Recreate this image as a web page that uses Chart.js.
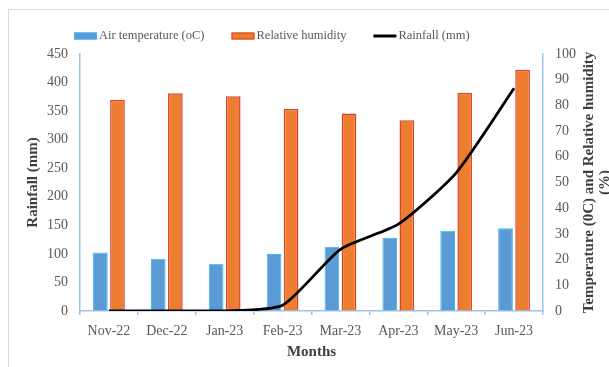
<!DOCTYPE html>
<html>
<head>
<meta charset="utf-8">
<script src="https://cdn.jsdelivr.net/npm/chart.js@4.4.0/dist/chart.umd.min.js"></script>
<style>
  html, body { margin: 0; padding: 0; background: #fff; }
  #wrap { position: relative; width: 609px; height: 367px; overflow: hidden; }
  #frame { position: absolute; left: 8px; top: 9px; right: 0; bottom: 0;
           border-top: 1px solid #d9d9d9; border-left: 1px solid #d9d9d9; }
  canvas { position: absolute; left: 0; top: 0; }
</style>
</head>
<body>
<div id="wrap">
  <div id="frame"></div>
  <canvas id="chart" width="609" height="367"></canvas>
</div>
<script>
// Monthly climate record, Nov 2022 – Jun 2023
const months = ['Nov-22', 'Dec-22', 'Jan-23', 'Feb-23', 'Mar-23', 'Apr-23', 'May-23', 'Jun-23'];
const airTemperature   = [22.8, 20.3, 18.4, 22.2, 25.0, 28.5, 31.2, 32.2];   // °C
const relativeHumidity = [82.2, 84.7, 83.6, 78.6, 76.8, 74.2, 84.9, 93.9];   // %
const rainfall         = [0, 0, 0, 10, 108, 152, 242, 390];                  // mm

const rainfallAxis = { min: 0, max: 450, step: 50 };
const percentAxis  = { min: 0, max: 100, step: 10 };

const SERIF = '"Liberation Serif", "Times New Roman", serif';
const AXIS_BLUE = '#9dc3e6';
const TICK_GREY = '#595959';
const TITLE_GREY = '#3f3f3f';

// Legend row drawn above the plot: box/line swatch followed by its label
const topLegend = {
  id: 'topLegend',
  afterDraw(chart) {
    const ctx = chart.ctx;
    ctx.save();
    ctx.font = '12.5px ' + SERIF;
    ctx.textBaseline = 'middle';
    ctx.textAlign = 'left';
    const y = 36;
    let x = 74;
    chart.data.datasets.forEach(ds => {
      if (ds.type === 'line') {
        ctx.strokeStyle = ds.borderColor;
        ctx.lineWidth = 3;
        ctx.beginPath();
        ctx.moveTo(x, y);
        ctx.lineTo(x + 23, y);
        ctx.stroke();
      } else {
        ctx.fillStyle = ds.backgroundColor;
        ctx.fillRect(x, y - 3.5, 23, 7);
        ctx.strokeStyle = ds.borderColor;
        ctx.lineWidth = 1;
        ctx.strokeRect(x + 0.5, y - 3, 22, 6);
      }
      ctx.fillStyle = TICK_GREY;
      ctx.fillText(ds.label, x + 25, y);
      x += 25 + ctx.measureText(ds.label).width + 27;
    });
    ctx.restore();
  }
};

// Right-hand axis title, reading bottom to top on two lines
const rightTitle = {
  id: 'rightTitle',
  afterDraw(chart) {
    const ctx = chart.ctx;
    const area = chart.chartArea;
    ctx.save();
    ctx.font = 'bold 15px ' + SERIF;
    ctx.fillStyle = TITLE_GREY;
    ctx.textAlign = 'center';
    ctx.textBaseline = 'middle';
    ctx.translate(589, (area.top + area.bottom) / 2);
    ctx.rotate(-Math.PI / 2);
    ctx.fillText('Temperature (0C) and Relative humidity', 0, 0);
    ctx.fillText('(%)', 0, 16);
    ctx.restore();
  }
};

new Chart(document.getElementById('chart'), {
  data: {
    labels: months,
    datasets: [
      {
        type: 'bar',
        label: 'Air temperature (oC)',
        data: airTemperature,
        yAxisID: 'yPct',
        backgroundColor: '#5b9bd5',
        borderColor: '#3db5ee',
        borderWidth: 1,
        categoryPercentage: 0.59,
        barPercentage: 0.86,
        order: 1
      },
      {
        type: 'bar',
        label: 'Relative humidity',
        data: relativeHumidity,
        yAxisID: 'yPct',
        backgroundColor: '#ed7d31',
        borderColor: '#d6452c',
        borderWidth: 1.5,
        categoryPercentage: 0.59,
        barPercentage: 0.86,
        order: 1
      },
      {
        type: 'line',
        label: 'Rainfall (mm)',
        data: rainfall,
        yAxisID: 'yRain',
        borderColor: '#000000',
        backgroundColor: '#000000',
        borderWidth: 2.8,
        pointRadius: 0,
        tension: 0.2,
        fill: false,
        order: 0
      }
    ]
  },
  options: {
    responsive: false,
    animation: false,
    layout: { padding: { top: 54, left: 0, right: 0, bottom: 0 } },
    plugins: {
      legend: { display: false },
      tooltip: { enabled: false }
    },
    scales: {
      x: {
        offset: true,
        grid: { display: true, drawOnChartArea: false, drawTicks: true, tickLength: 4,
                color: AXIS_BLUE, lineWidth: 1.5 },
        border: { display: true, color: AXIS_BLUE, width: 1.5 },
        ticks: { color: TICK_GREY, font: { family: SERIF, size: 14 }, padding: 8,
                 maxRotation: 0, autoSkip: false },
        title: { display: true, text: 'Months', color: TITLE_GREY,
                 font: { family: SERIF, size: 15, weight: 'bold' }, padding: { top: 0, bottom: 6 } },
        afterFit(scale) { scale.height = 56; }
      },
      yRain: {
        position: 'left',
        min: rainfallAxis.min,
        max: rainfallAxis.max,
        grid: { display: true, drawOnChartArea: false, drawTicks: false },
        border: { display: true, color: AXIS_BLUE, width: 1.5 },
        ticks: { stepSize: rainfallAxis.step, color: TICK_GREY, font: { family: SERIF, size: 14 }, padding: 12 },
        title: { display: true, text: 'Rainfall (mm)', color: TITLE_GREY,
                 font: { family: SERIF, size: 15, weight: 'bold' }, padding: { top: 24, bottom: 0 } },
        afterFit(scale) { scale.width = 80; }
      },
      yPct: {
        position: 'right',
        min: percentAxis.min,
        max: percentAxis.max,
        grid: { display: true, drawOnChartArea: false, drawTicks: false },
        border: { display: true, color: AXIS_BLUE, width: 1.5 },
        ticks: { stepSize: percentAxis.step, color: TICK_GREY, font: { family: SERIF, size: 14 }, padding: 12 },
        afterFit(scale) { scale.width = 66; }
      }
    }
  },
  plugins: [topLegend, rightTitle]
});
</script>
</body>
</html>
